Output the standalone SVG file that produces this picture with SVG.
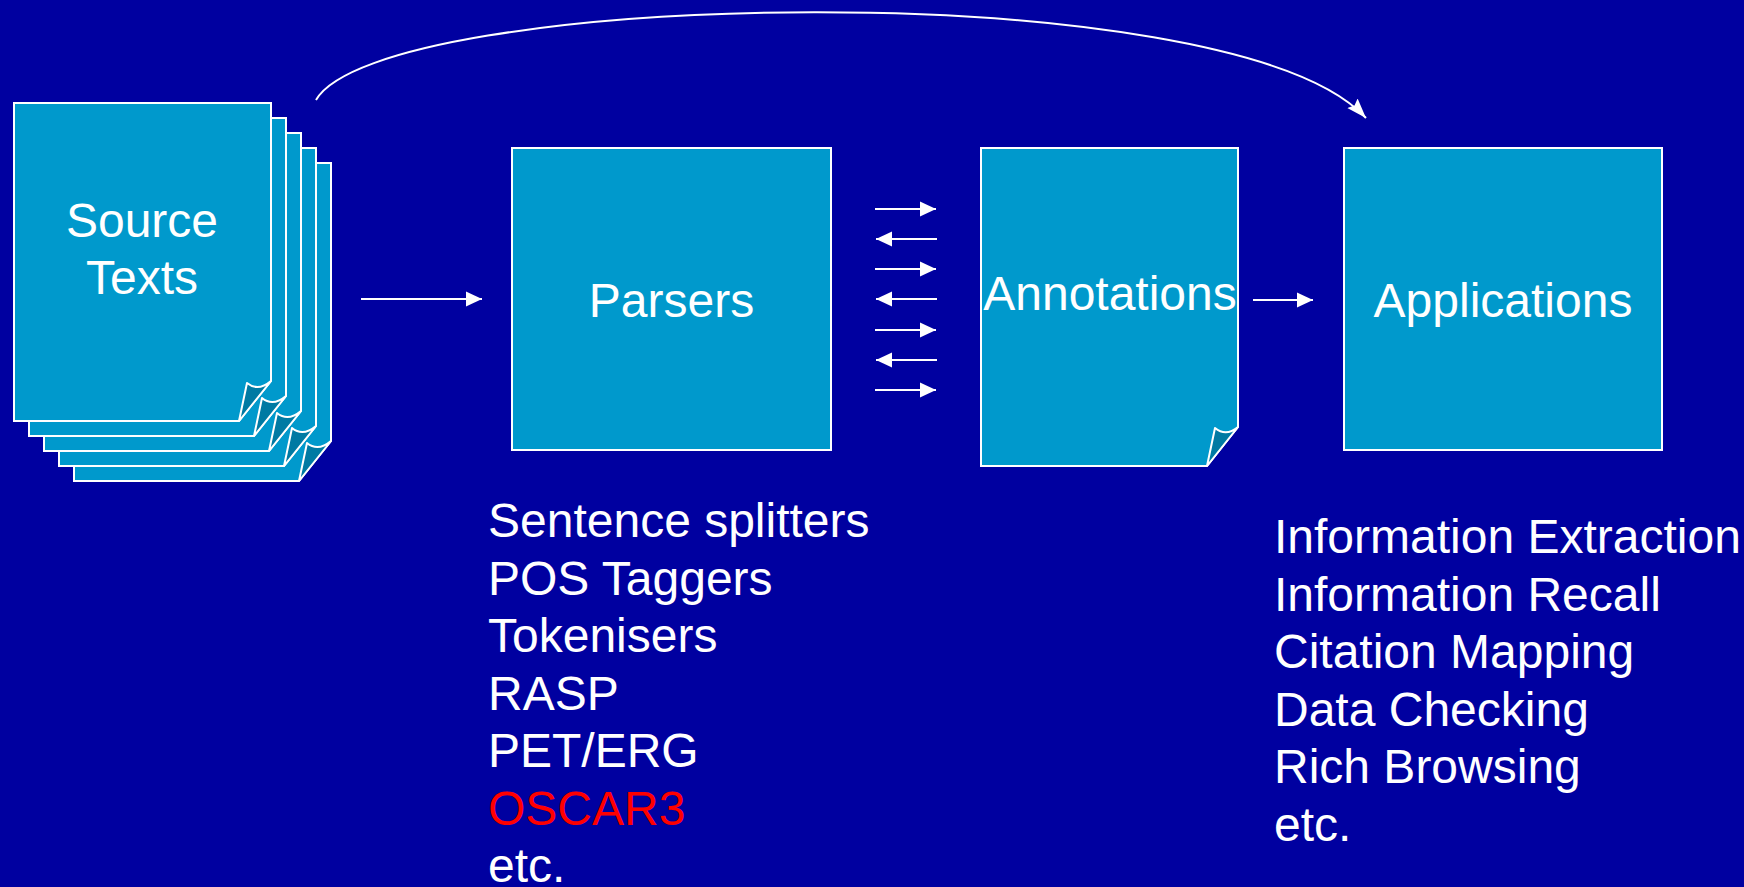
<svg xmlns="http://www.w3.org/2000/svg" width="1744" height="887" viewBox="0 0 1744 887">
<style>
.box{fill:#0099CC;stroke:#FFFFFF;stroke-width:2}
.curl{fill:#007AA3;stroke:#FFFFFF;stroke-width:2;stroke-linejoin:round}
.lbl{font-family:"Liberation Sans",Arial,sans-serif;font-size:48px;fill:#FFFFFF}
.mid{text-anchor:middle}
.conn{stroke:#FFFFFF;stroke-width:2;fill:none}
</style>
<defs>
<marker id="ah" viewBox="0 0 16 16" refX="16" refY="8" markerWidth="16" markerHeight="16" markerUnits="userSpaceOnUse" orient="auto">
<path d="M0,0.5 L16,8 L0,15.5 Z" fill="#FFFFFF"/>
</marker>
<marker id="ahc" viewBox="0 0 20 16" refX="20" refY="8" markerWidth="20" markerHeight="16" markerUnits="userSpaceOnUse" orient="auto">
<path d="M0,1 L20,8 L0,15 L3,8 Z" fill="#FFFFFF"/>
</marker>
</defs>
<rect width="1744" height="887" fill="#0000A0"/>

<g id="source-texts">
<path class="box" d="M74,163 H331 V441 L299,481 H74 Z"/>
<path class="curl" d="M299,481 L307,443 Q318,452 331,441 Z"/>
<path class="box" d="M59,148 H316 V426 L284,466 H59 Z"/>
<path class="curl" d="M284,466 L292,428 Q303,437 316,426 Z"/>
<path class="box" d="M44,133 H301 V411 L269,451 H44 Z"/>
<path class="curl" d="M269,451 L277,413 Q288,422 301,411 Z"/>
<path class="box" d="M29,118 H286 V396 L254,436 H29 Z"/>
<path class="curl" d="M254,436 L262,398 Q273,407 286,396 Z"/>
<path class="box" d="M14,103 H271 V381 L239,421 H14 Z"/>
<path class="curl" d="M239,421 L247,383 Q258,392 271,381 Z"/>
<text class="lbl mid" x="142" y="237">Source</text>
<text class="lbl mid" x="142" y="294">Texts</text>
</g>

<g id="parsers">
<rect class="box" x="512" y="148" width="319" height="302"/>
<text class="lbl mid" x="671.5" y="317">Parsers</text>
</g>

<g id="annotations">
<path class="box" d="M981,148 H1238 V427 L1207,466 H981 Z"/>
<path class="curl" d="M1207,466 L1215,428 Q1226,437 1238,427 Z"/>
<text class="lbl mid" x="1110" y="310">Annotations</text>
</g>

<g id="applications">
<rect class="box" x="1344" y="148" width="318" height="302"/>
<text class="lbl mid" x="1503" y="317">Applications</text>
</g>

<g id="parsers-list">
<text class="lbl" x="488" y="537">Sentence splitters</text>
<text class="lbl" x="488" y="594.5">POS Taggers</text>
<text class="lbl" x="488" y="652">Tokenisers</text>
<text class="lbl" x="488" y="709.5">RASP</text>
<text class="lbl" x="488" y="767">PET/ERG</text>
<text class="lbl" x="488" y="824.5" style="fill:#FF0000">OSCAR3</text>
<text class="lbl" x="488" y="882">etc.</text>
</g>

<g id="applications-list">
<text class="lbl" x="1274" y="553">Information Extraction</text>
<text class="lbl" x="1274" y="610.5">Information Recall</text>
<text class="lbl" x="1274" y="668">Citation Mapping</text>
<text class="lbl" x="1274" y="725.5">Data Checking</text>
<text class="lbl" x="1274" y="783">Rich Browsing</text>
<text class="lbl" x="1274" y="840.5">etc.</text>
</g>

<g id="connectors">
<line class="conn" x1="361" y1="299" x2="482" y2="299" marker-end="url(#ah)"/>
<line class="conn" x1="875" y1="209" x2="936" y2="209" marker-end="url(#ah)"/>
<line class="conn" x1="937" y1="239" x2="876" y2="239" marker-end="url(#ah)"/>
<line class="conn" x1="875" y1="269" x2="936" y2="269" marker-end="url(#ah)"/>
<line class="conn" x1="937" y1="299" x2="876" y2="299" marker-end="url(#ah)"/>
<line class="conn" x1="875" y1="330" x2="936" y2="330" marker-end="url(#ah)"/>
<line class="conn" x1="937" y1="360" x2="876" y2="360" marker-end="url(#ah)"/>
<line class="conn" x1="875" y1="390" x2="936" y2="390" marker-end="url(#ah)"/>
<line class="conn" x1="1253" y1="300" x2="1313" y2="300" marker-end="url(#ah)"/>
<path class="conn" d="M316,100 C380,-10 1230,-30 1366,118" marker-end="url(#ahc)"/>
</g>
</svg>
